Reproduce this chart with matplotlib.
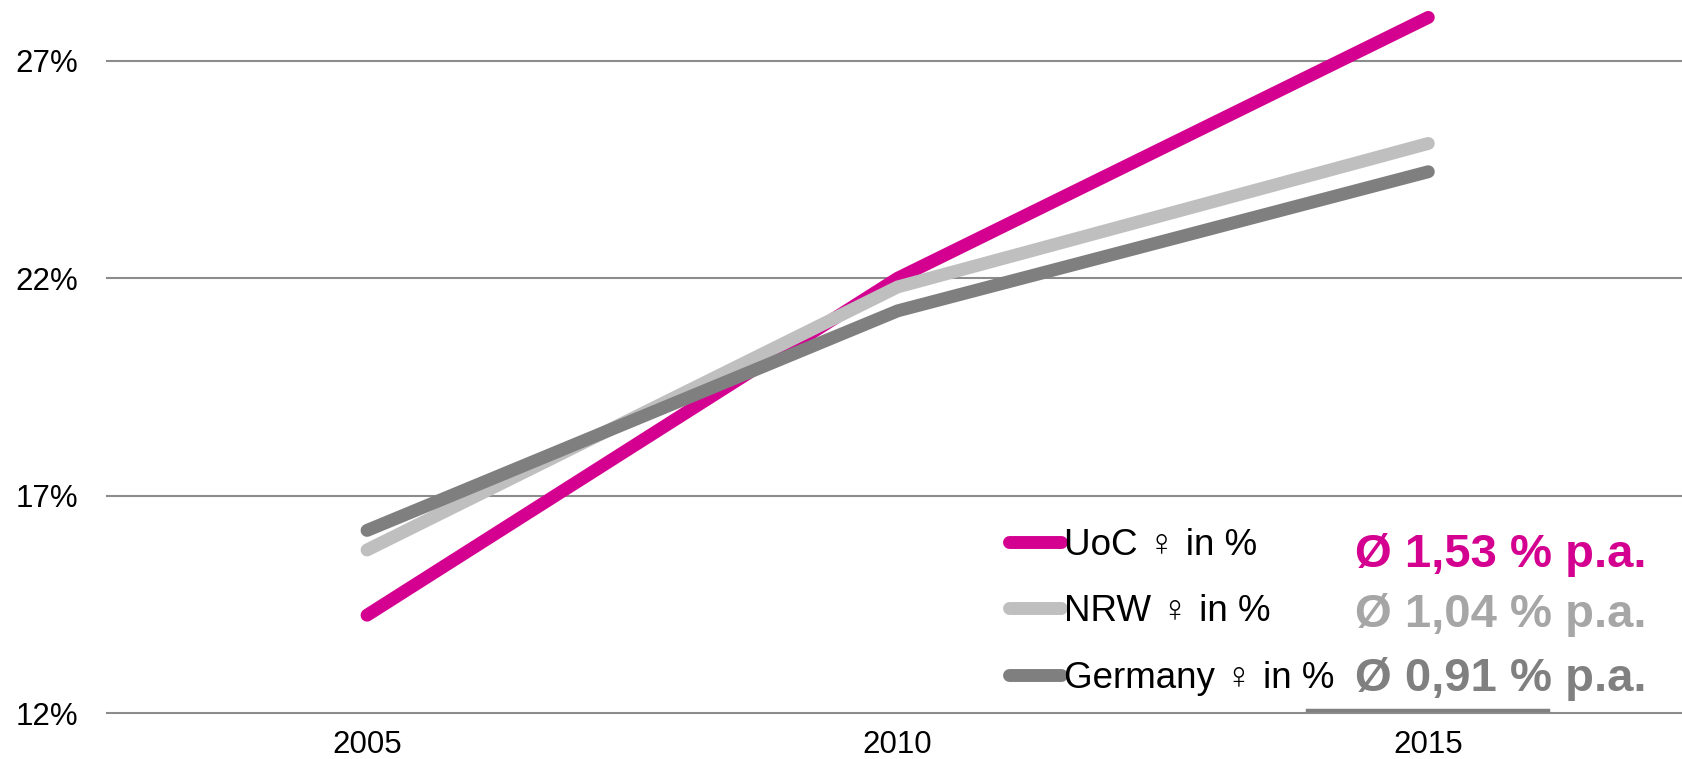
import matplotlib
matplotlib.use('Agg')
import matplotlib.pyplot as plt
from matplotlib.lines import Line2D

plt.rcParams['font.family'] = ['Liberation Sans', 'Noto Sans CJK JP', 'DejaVu Sans']

jahre = ['2005', '2010', '2015']
uoc = [14.25, 22.0, 28.0]
nrw = [15.75, 21.8, 25.1]
germany = [16.2, 21.25, 24.45]
serien = {
    'UoC ♀ in %': (uoc, '#D4008F'),
    'NRW ♀ in %': (nrw, '#BFBFBF'),
    'Germany ♀ in %': (germany, '#7F7F7F'),
}
wachstum = ['Ø 1,53 % p.a.', 'Ø 1,04 % p.a.', 'Ø 0,91 % p.a.']
wachstum_farben = ['#D4008F', '#A6A6A6', '#808080']
y_ticks = [12, 17, 22, 27]

fig = plt.figure(figsize=(16.83, 7.59), dpi=100)
ax = fig.add_axes([0.0636, 0.0606, 0.9364, 0.9394])

x = range(len(jahre))
for nome, (valores, cor) in serien.items():
    ax.plot(x, valores, color=cor, lw=9.3, solid_capstyle='round', label=nome, zorder=3)

ax.set_xlim(-0.49, 2.48)
ax.set_ylim(12, 28.4)
ax.set_yticks(y_ticks)
ax.set_yticklabels([f'{v}%' for v in y_ticks])
ax.set_xticks(list(x))
ax.set_xticklabels(jahre)
ax.tick_params(length=0, labelsize=22.5)
ax.tick_params(axis='x', pad=12)
ax.tick_params(axis='y', pad=21)
for s in ax.spines.values():
    s.set_visible(False)
ax.grid(axis='y', color='#8C8C8C', lw=1.5)
ax.set_axisbelow(True)
for gl in ax.get_ygridlines():
    gl.set_clip_on(False)

leg = ax.legend(loc='upper left', bbox_to_anchor=(1009 / 1683, 1 - 528 / 759),
                bbox_transform=fig.transFigure, frameon=False, fontsize=26.5,
                handlelength=1.4, handletextpad=0.1, borderpad=0, borderaxespad=0,
                labelspacing=0.85)

ys = [555, 615, 679]
for texto, cor, yy in zip(wachstum, wachstum_farben, ys):
    fig.text(1647 / 1683, 1 - yy / 759, texto, color=cor, fontsize=34, fontweight='bold',
             ha='right', va='center')

# kleiner Rest eines Rahmens ueber der Grundlinie
fig.add_artist(Line2D([1307 / 1683, 1548 / 1683], [1 - 710 / 759, 1 - 710 / 759],
                      color='#808080', lw=2.5))

fig.savefig('out.png', dpi=100)
